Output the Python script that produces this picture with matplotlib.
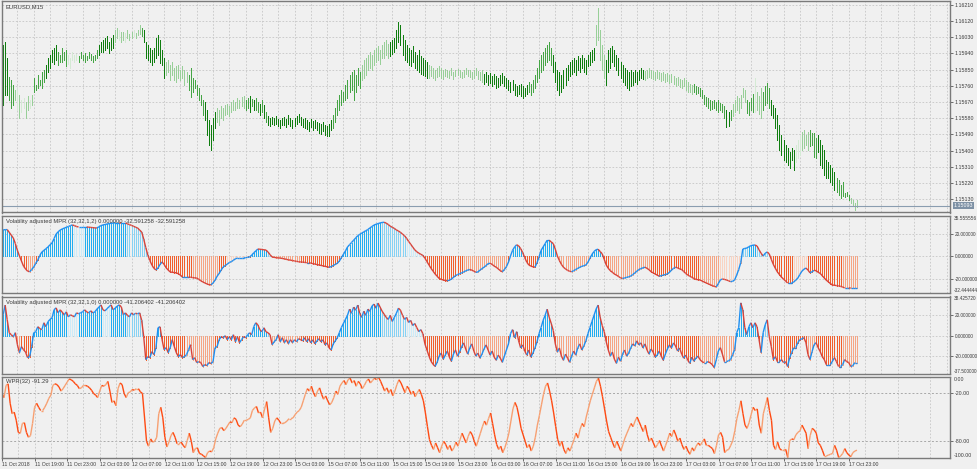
import numpy as np
import matplotlib.pyplot as plt
from matplotlib.collections import LineCollection
from matplotlib.ticker import FixedLocator, FormatStrFormatter

# EURUSD M15 bars, prices kept as points above 1.15000 (price = 1.15 + pts / 1e5)
hi_pts = [
    960, 988, 1004, 915, 810, 793, 765, 737, 748, 709,
    681, 693, 670, 704, 681, 709, 804, 765, 821, 793,
    837, 848, 876, 915, 932, 960, 971, 988, 949, 932,
    971, 949, 960, 932, 915, 949, 932, 938, 926, 949,
    932, 943, 926, 949, 938, 926, 932, 960, 988, 1004,
    1015, 1026, 1037, 1004, 1026, 1043, 1071, 1082, 1071, 1060,
    1060, 1054, 1071, 1049, 1060, 1071, 1054, 1071, 1099, 1082,
    1071, 1004, 988, 971, 960, 971, 1026, 1043, 1015, 960,
    915, 893, 904, 876, 893, 860, 871, 876, 848, 871,
    848, 837, 821, 860, 804, 793, 765, 748, 709, 681,
    670, 626, 570, 542, 581, 615, 637, 626, 648, 637,
    654, 659, 648, 670, 681, 670, 693, 681, 698, 704,
    681, 693, 704, 687, 681, 693, 670, 659, 681, 654,
    615, 592, 581, 587, 581, 592, 576, 570, 581, 587,
    576, 598, 581, 570, 581, 592, 604, 587, 576, 581,
    570, 559, 576, 565, 570, 559, 554, 548, 559, 542,
    537, 548, 570, 598, 637, 681, 709, 737, 726, 765,
    793, 821, 837, 848, 821, 860, 837, 876, 904, 915,
    932, 949, 932, 960, 971, 982, 960, 988, 1004, 1015,
    993, 1004, 1015, 1026, 1071, 1116, 1099, 1043, 1015, 988,
    971, 960, 982, 949, 932, 960, 926, 915, 904, 893,
    876, 871, 860, 848, 860, 871, 860, 848, 854, 848,
    843, 860, 837, 848, 854, 848, 837, 848, 860, 848,
    848, 837, 848, 860, 843, 837, 848, 826, 837, 821,
    832, 815, 826, 815, 804, 821, 832, 815, 804, 793,
    782, 793, 771, 760, 765, 771, 760, 748, 765, 782,
    771, 793, 821, 860, 904, 932, 949, 971, 988, 1004,
    971, 932, 893, 848, 837, 821, 848, 860, 876, 893,
    904, 915, 904, 926, 915, 932, 915, 904, 932, 949,
    960, 971, 1099, 1193, 1071, 988, 932, 904, 960, 971,
    982, 960, 932, 915, 893, 876, 860, 848, 837, 848,
    837, 848, 837, 848, 860, 848, 843, 848, 860, 848,
    843, 837, 848, 837, 832, 837, 826, 832, 821, 826,
    815, 804, 810, 798, 793, 804, 793, 782, 771, 765,
    771, 760, 754, 748, 737, 709, 698, 693, 681, 676,
    681, 670, 681, 665, 659, 648, 626, 615, 626, 659,
    681, 704, 693, 709, 748, 737, 681, 670, 693, 715,
    804, 726, 704, 748, 726, 760, 776, 748, 681, 654,
    637, 598, 542, 487, 459, 431, 414, 392, 414, 403,
    431, 459, 487, 503, 514, 487, 503, 514, 498, 498,
    470, 487, 459, 431, 403, 347, 336, 320, 303, 281,
    247, 236, 208, 225, 164, 169, 153, 136, 125, 108, 125,
]
lo_pts = [
    681, 654, 709, 709, 681, 637, 654, 681, 626, 581,
    615, 637, 581, 626, 637, 654, 726, 737, 748, 765,
    748, 782, 804, 837, 860, 893, 882, 904, 876, 893,
    893, 904, 871, 882, 860, 904, 893, 904, 893, 915,
    904, 893, 904, 915, 904, 893, 904, 915, 932, 949,
    949, 960, 971, 943, 960, 971, 1004, 1026, 1015, 1004,
    1015, 1004, 1026, 1015, 1026, 1037, 1026, 1043, 1049, 1037,
    1004, 915, 904, 893, 876, 893, 915, 932, 887, 876,
    804, 821, 837, 793, 821, 793, 782, 804, 793, 804,
    765, 782, 737, 698, 726, 748, 709, 681, 654, 598,
    570, 487, 431, 403, 459, 526, 559, 542, 581, 570,
    598, 604, 592, 615, 626, 626, 637, 637, 648, 637,
    626, 637, 615, 648, 626, 626, 615, 598, 615, 581,
    559, 542, 537, 548, 542, 548, 537, 526, 542, 542,
    531, 548, 537, 526, 537, 548, 559, 542, 531, 526,
    520, 509, 531, 514, 526, 514, 498, 492, 509, 487,
    481, 481, 514, 526, 559, 598, 626, 654, 670, 681,
    693, 726, 737, 681, 726, 765, 748, 793, 804, 821,
    848, 860, 848, 876, 893, 904, 882, 915, 915, 932,
    915, 926, 938, 949, 971, 1004, 988, 932, 904, 893,
    876, 871, 893, 860, 848, 837, 826, 821, 815, 804,
    804, 815, 804, 793, 810, 815, 804, 798, 815, 810,
    804, 821, 798, 815, 821, 810, 804, 810, 826, 815,
    810, 798, 804, 821, 798, 793, 782, 771, 782, 765,
    776, 760, 771, 748, 754, 765, 776, 760, 748, 737,
    726, 737, 709, 704, 715, 704, 693, 704, 715, 726,
    709, 726, 748, 782, 804, 837, 848, 876, 893, 904,
    876, 837, 782, 737, 709, 726, 748, 765, 793, 815,
    826, 837, 821, 848, 837, 860, 837, 826, 871, 876,
    893, 904, 988, 1015, 904, 848, 804, 765, 837, 860,
    893, 871, 848, 821, 804, 782, 765, 748, 737, 760,
    765, 782, 771, 793, 804, 798, 793, 804, 810, 804,
    798, 793, 804, 798, 787, 793, 782, 787, 776, 782,
    771, 760, 765, 754, 748, 760, 737, 726, 726, 715,
    726, 715, 720, 704, 693, 659, 648, 637, 626, 631,
    637, 626, 615, 626, 615, 581, 531, 537, 570, 592,
    615, 626, 609, 637, 698, 670, 609, 598, 626, 615,
    615, 626, 604, 581, 626, 654, 665, 637, 598, 581,
    526, 459, 403, 375, 347, 336, 320, 303, 347, 292,
    336, 359, 375, 403, 414, 431, 403, 426, 431, 364,
    359, 392, 320, 303, 264, 247, 247, 225, 208, 180,
    169, 153, 136, 147, 142, 147, 125, 108, 97, 69, 86,
]
# bar shade: D dark green, G green, L light green, P pale green
bar_runs = [
    ("D", 4), ("G", 3), ("L", 1), ("P", 1), ("L", 1), ("P", 2), ("L", 2), ("P", 1), ("L", 1),
    ("G", 6), ("D", 6), ("G", 5), ("P", 5), ("G", 10), ("D", 8),
    ("L", 2), ("P", 1), ("L", 2), ("P", 1), ("L", 3), ("P", 1), ("L", 3), ("G", 1),
    ("D", 11), ("L", 11), ("G", 8), ("D", 6), ("L", 14),
    ("G", 2), ("D", 1), ("G", 1), ("D", 1), ("G", 2), ("D", 1), ("G", 1), ("D", 1), ("G", 1),
    ("D", 32), ("G", 14), ("L", 14), ("D", 19), ("L", 27), ("D", 22), ("G", 12), ("D", 21),
    ("L", 5), ("D", 19), ("L", 24), ("G", 11), ("G", 5), ("D", 2), ("G", 1), ("L", 7), ("G", 4),
    ("P", 1), ("L", 3), ("G", 4), ("D", 4), ("D", 8), ("P", 3), ("L", 4), ("G", 4), ("D", 9),
    ("G", 7), ("L", 4),
]
last_price = 1.15093

# Volatility adjusted MPR, slow pane
mpr_slow = [
    23, 23.2, 23.4, 23.5, 21, 18.5, 16, 11, 5, 0,
    -4.5, -9, -11.5, -13.5, -14, -12, -9.8, -6.5, -3.6, 0.5,
    3.5, 5, 6.5, 8, 10, 11.6, 15.5, 19.5, 21.5, 23.1,
    24, 24.8, 25.5, 26.2, 27, 27.6, 27, 26.2, 25.8, 25.8,
    25.8, 25.8, 25.8, 25.6, 25.4, 25.2, 25, 24.9, 26, 27,
    27.6, 28, 28.4, 28.8, 29.1, 29.3, 29.4, 29.4, 29.4, 29.3,
    29.3, 29.3, 28.6, 27.9, 27.2, 26.4, 25.6, 24.9, 23, 21.3,
    15, 7.5, 0.9, -4, -8, -11, -12.4, -10.7, -7.5, -5.3,
    -7.5, -10.5, -12.5, -14.2, -14.5, -14.7, -15, -15.8, -17, -18.7,
    -18.7, -18.7, -18.7, -18.9, -19.2, -19.4, -19.6, -20.8, -22, -23.1,
    -24, -24.8, -25.5, -25.6, -24, -21.5, -18, -15.5, -12.5, -9.8,
    -8.5, -7.2, -5.8, -5, -3.8, -2.5, -1.8, -1.8, -1.8, -1.8,
    -1.5, -1.2, -0.9, 0.8, 2.8, 4.5, 6.2, 6, 5.8, 5.5,
    5.3, 3.5, 1.2, -0.9, -1.2, -1.5, -1.7, -1.8, -2.2, -2.5,
    -3, -3.4, -3.7, -4, -4.4, -4.8, -5.1, -5.3, -5.5, -5.7,
    -6, -6, -6.3, -6.8, -7.2, -7.6, -8, -8.4, -8.8, -9.2,
    -9.6, -10, -9.5, -8.5, -7.5, -6.5, -4.5, -1.5, 1.5, 4.5,
    8, 10, 12, 14, 16, 18, 19.2, 20.3, 21.5, 22.5,
    23.5, 25, 26.2, 27.5, 28.2, 28.8, 29.4, 29.8, 30, 29.2,
    28, 26.5, 25.5, 24.5, 23.2, 22.2, 21, 19.5, 18, 15.7,
    13, 10.5, 8, 5.5, 3.8, 2.5, 1.5, 0.5, -2, -5,
    -8, -11, -13.5, -16, -18, -20, -20.8, -21.3, -21.8, -22,
    -21.5, -20.5, -19, -17.5, -16.5, -15.8, -15, -14.2, -13.2, -12.5,
    -12, -12.6, -13.5, -14.5, -14.2, -12.6, -11.2, -10, -8.5, -6.8,
    -6.5, -7.5, -9, -10, -11.5, -13, -14, -12, -9.5, -5.5,
    0, 5, 8, 10, 9, 6.5, 3, -1.5, -5.5, -8,
    -9, -9.6, -10, -6, -1, 5, 8, 11, 14, 14,
    12.5, 11, 6, 0, -4, -7.5, -10, -11.5, -12.8, -13.6,
    -14, -13, -12, -11, -10, -9.2, -8.6, -8, -5.5, -2,
    1.5, 4, 5.6, 6, 4, 2, -3, -8, -11, -13,
    -14.5, -16, -17, -18.2, -19.4, -20, -19.5, -19, -18.5, -17.8,
    -16.5, -15, -13.5, -12, -11.2, -10.5, -10, -11, -12.2, -14,
    -15, -16, -17, -18, -17.5, -17, -16.5, -16, -14.5, -12.6,
    -11, -10, -10.5, -11.5, -12, -13.8, -15.5, -17, -18, -19,
    -20, -20.8, -21.1, -21.3, -22.2, -23.1, -23.9, -24.7, -25.5, -26.3,
    -27, -27.5, -24.5, -21.3, -20.4, -20.8, -21.3, -22, -22.8, -22.5,
    -21.3, -17, -12, -6, 6.2, 6.7, 7.1, 8.3, 9.2, 9.6,
    9.8, 8.9, 5.5, 2.4, 0, 2.4, 3.6, 1.8, -3, -7.5,
    -11, -14.2, -16.5, -18.8, -20.5, -22.3, -24, -24, -24, -23,
    -21.5, -19.6, -16.5, -13.5, -11.8, -10.7, -12.5, -15, -14, -12.8,
    -13, -14.5, -15.5, -17.5, -19.6, -21.5, -23, -24.5, -25.8, -26,
    -26.3, -26.6, -27, -27.6, -28.4, -28.4, -28.4, -28.5, -28.5, -28.5, -28.5,
]
# Volatility adjusted MPR, fast pane
mpr_fast = [
    20.5, 20.5, 30, 15.6, 2.9, 1, -1, 3, -8.8, -16.6,
    -10.7, -13.7, -16, -21.5, -20.5, -10.7, 2.9, 3.9, 8.8, 7,
    5.9, 12.7, 8.8, 13.7, 16, 17.6, 25.4, 27.3, 22.4, 25.4,
    23, 20.5, 23.4, 18.5, 20.5, 19.5, 18.5, 22.4, 21.5, 22.5,
    23.4, 25.4, 23.4, 22.4, 24.4, 22.4, 23.4, 26, 28, 30.2,
    25.4, 24.4, 26.5, 28.5, 30.2, 25.4, 27, 29, 30.2, 28.3,
    20.5, 22.4, 20, 18.5, 22.4, 20.5, 22, 21.5, 22.4, 15,
    -1, -23.4, -20.5, -21.5, -15.6, -18.5, -11.7, 7.8, 8.8, -3.9,
    -13.7, -11.7, -16.6, -11.7, -3.9, -10.7, -16.6, -20.5, -18.5, -21.5,
    -20.5, -18.5, -13.7, -8.8, -23.4, -21.5, -26.3, -25.4, -26.3, -30.2,
    -28.3, -29.3, -26.3, -27.3, -25.4, -11.7, -10.7, -3.9, -1, -2,
    0, -3.9, -1, -3.9, 1, -5.9, -1, -6.8, -3.9, -1,
    -2, 1, 2.9, 1, 8.8, 12.7, 10.7, 5.9, 3.9, 7.8,
    3.9, 2.9, 1, -8.8, -5.9, -3.9, 1, -5.9, -2, -6.8,
    -3.9, -7.8, -3.9, -6.8, -3.9, -5.9, -2.9, -3.9, -5, -2,
    -6, -3, -7, -4, -8, -5, -3, -6, -4, -9,
    -7, -12, -14, -8, -5, -2, 3, 8, 12, 16,
    20, 26, 22, 28, 25, 30, 22, 18, 24, 20,
    26, 24, 29, 31, 27, 32, 28, 24, 21, 18,
    16, 20, 14, 18, 22, 27, 25, 20, 16, 18,
    13, 15, 10, 12, 8, 4, 6, 2, -8, -14,
    -20, -25, -28, -30, -26, -20, -17, -23, -19, -15,
    -21, -25, -18, -14, -20, -16, -11, -7, -13, -18,
    -12, -8, -15, -20, -17, -22, -18, -13, -9, -14,
    -19, -15, -21, -24, -19, -22, -26, -20, -14, -8,
    2, 6, -2, 4, -5, -12, -9, -15, -19, -14,
    -21, -17, -12, -6, 2, 8, 15, 20, 26, 18,
    12, 5, -8, -16, -12, -20, -24, -18, -22, -26,
    -20, -15, -19, -12, -8, -14, -10, -5, 2, 8,
    14, 20, 26, 30, 18, 10, 4, -6, -14, -20,
    -16, -23, -27, -21, -25, -18, -14, -20, -17, -12,
    -8, -10, -5, -9, -7, -12, -8, -14, -18, -13,
    -16, -21, -19, -15, -20, -24, -18, -13, -9, -12,
    -7, -10, -15, -12, -18, -22, -19, -24, -27, -21,
    -25, -22, -20, -23.4, -25.4, -26.3, -26.3, -25.4, -26.5, -28.3,
    -31.2, -23.4, -15, -11.7, -18, -25.4, -25.4, -24.5, -23.4, -18.5,
    -13.7, 2.9, 7.8, 32.2, 25.4, 7.8, 1, 8.8, 12.7, 7.8,
    12.7, 8.8, -3.9, -16.6, 3, 10.7, 15.6, -1, -10.7, -23.4,
    -20.5, -25.4, -25.4, -23.4, -26.3, -25.4, -30.2, -21.5, -16.6, -11.7,
    -11.7, -6.8, -3.9, -3, -2, -6.8, -18.5, -23.4, -15.6, -8.8,
    -6.8, -11.7, -15.6, -20.5, -23.4, -28.3, -28.3, -28.3, -25, -21.5,
    -25.4, -30.2, -30.2, -28.3, -23.4, -25.4, -26.3, -30.2, -29.3, -26.3, -26.3,
]
# Williams %R (32)
wpr = [
    -21, -26, -11, -9, -33, -46, -44, -54, -69, -70,
    -58, -57, -69, -75, -73, -58, -38, -33, -38, -42,
    -42, -38, -33, -27, -23, -11, -9, -10, -13, -18,
    -15, -11, -7, -3, -4, -6, -9, -11, -15, -14,
    -11, -11, -12, -14, -17, -21, -23, -26, -18, -11,
    -12, -10, -6, -18, -32, -30, -36, -15, -8, -10,
    -21, -26, -20, -19, -16, -17, -15, -15, -19, -21,
    -50, -80, -86, -77, -81, -80, -75, -46, -38, -51,
    -75, -87, -81, -73, -69, -75, -83, -83, -81, -85,
    -88, -79, -70, -80, -94, -89, -88, -95, -96, -98,
    -100, -94, -92, -93, -88, -77, -70, -64, -63, -67,
    -64, -60, -56, -57, -51, -53, -60, -62, -59, -54,
    -54, -53, -51, -42, -39, -37, -45, -44, -51, -40,
    -31, -51, -69, -64, -55, -51, -54, -58, -58, -57,
    -55, -52, -52, -51, -47, -44, -42, -38, -30, -22,
    -15, -18, -12, -20, -25, -18, -14, -22, -28, -24,
    -30, -35, -32, -26, -18, -22, -12, -8, -5, -10,
    -4, -2, -8, -5, -12, -6, -9, -15, -11, -6,
    -3, -8, -5, -2, -4, -1, -6, -12, -18, -14,
    -20, -16, -24, -18, -10, -4, -8, -14, -20, -12,
    -16, -22, -18, -25, -20, -16, -22, -30, -45, -62,
    -78, -85, -90, -82, -88, -94, -86, -80, -84, -90,
    -85, -92, -88, -81, -86, -78, -70, -76, -82, -74,
    -68, -72, -80, -86, -78, -70, -62, -55, -60, -52,
    -45, -58, -72, -84, -90, -86, -94, -88, -80, -70,
    -55, -40, -32, -38, -50, -64, -72, -80, -88, -84,
    -92, -86, -75, -60, -48, -35, -22, -12, -8, -18,
    -30, -45, -62, -78, -86, -80, -90, -95, -88, -92,
    -85, -78, -70, -76, -65, -58, -62, -50, -40, -30,
    -22, -14, -6, -2, -12, -25, -40, -55, -68, -75,
    -82, -88, -80, -86, -92, -84, -76, -70, -64, -58,
    -62, -55, -50, -56, -62, -68, -60, -72, -80, -76,
    -82, -88, -84, -79, -86, -92, -85, -78, -70, -74,
    -66, -72, -80, -76, -84, -90, -86, -92, -96, -88,
    -92, -86, -82, -85, -81, -77, -85, -85, -87, -89,
    -95, -85, -72, -69, -75, -94, -91, -90, -85, -79,
    -67, -52, -42, -30, -46, -60, -64, -57, -47, -38,
    -42, -40, -60, -70, -46, -36, -26, -42, -54, -85,
    -90, -81, -89, -91, -91, -90, -100, -79, -77, -78,
    -72, -69, -67, -60, -65, -70, -89, -73, -64, -66,
    -70, -82, -85, -91, -98, -98, -97, -96, -95, -85,
    -91, -100, -98, -95, -89, -94, -97, -99, -94, -92, -91,
]
# histogram shade runs: d strong, l light, w very light
slow_shade_runs = [
    ("d", 8), ("d", 5), ("l", 4), ("d", 19), ("w", 5), ("d", 21), ("l", 10), ("d", 22),
    ("l", 13), ("d", 4), ("w", 10), ("d", 10), ("l", 16),
    ("d", 40), ("l", 12), ("w", 8), ("d", 20), ("l", 22), ("d", 24), ("l", 16), ("d", 10),
    ("l", 20), ("d", 24),
    ("l", 10), ("w", 10), ("l", 4), ("d", 4), ("l", 8), ("d", 10), ("w", 7), ("d", 17), ("l", 8),
]
fast_shade_runs = [
    ("d", 5), ("l", 5), ("d", 6), ("d", 17), ("w", 5), ("d", 12), ("w", 4), ("d", 8), ("l", 8),
    ("d", 21), ("l", 14), ("d", 16), ("d", 10), ("l", 16),
    ("d", 40), ("l", 12), ("w", 8), ("d", 20), ("l", 22), ("d", 24), ("l", 16), ("d", 10),
    ("l", 20), ("d", 24),
    ("l", 18), ("d", 12), ("l", 6), ("d", 17), ("l", 4), ("d", 13), ("l", 8),
]
time_labels = [
    "11 Oct 2018", "11 Oct 19:00", "11 Oct 23:00", "12 Oct 03:00", "12 Oct 07:00",
    "12 Oct 11:00", "12 Oct 15:00", "12 Oct 19:00", "12 Oct 23:00", "15 Oct 03:00",
    "15 Oct 07:00", "15 Oct 11:00", "15 Oct 15:00", "15 Oct 19:00", "15 Oct 23:00",
    "16 Oct 03:00", "16 Oct 07:00", "16 Oct 11:00", "16 Oct 15:00", "16 Oct 19:00",
    "16 Oct 23:00", "17 Oct 03:00", "17 Oct 07:00", "17 Oct 11:00", "17 Oct 15:00",
    "17 Oct 19:00", "17 Oct 23:00",
]
price_ticks = [1.16210, 1.16120, 1.16030, 1.15940, 1.15850, 1.15760, 1.15670,
               1.15580, 1.15490, 1.15400, 1.15310, 1.15220, 1.15130]

plt.rcParams['font.family'] = ['Liberation Sans', 'DejaVu Sans']

bg = '#f0f0f0'
spine_c = '#7a7a7a'
txt_c = '#3c3c3c'
grid_c = '#c6c6c6'
fs_y = 3.8    # price axis
fs_ind = 3.4  # indicator axes, long labels
fs_x = 3.7
bar_pal = {'D': '#0f7d0f', 'G': '#45a545', 'L': '#98cf98', 'P': '#d4ead4'}
pos_pal = {'d': '#22aef0', 'l': '#86d2f4', 'w': '#cdebf8'}
neg_pal = {'d': '#f25f2c', 'l': '#f6a584', 'w': '#f9d4c3'}


def expand(runs):
    return ''.join(c * n for c, n in runs)


n = len(hi_pts)
x = np.arange(n)
hi = 1.15 + np.array(hi_pts) / 1e5
lo = 1.15 + np.array(lo_pts) / 1e5

W, H = 977, 469
fig = plt.figure(figsize=(W / 100, H / 100), dpi=100, facecolor=bg)


def pane(top, bottom):
    return fig.add_axes([2 / W, 1 - bottom / H, 948 / W, (bottom - top) / H])


ax1 = pane(1, 212.5)
ax2 = pane(216, 292.5)
ax3 = pane(296.5, 374)
ax4 = pane(376.5, 457.5)

for ax in (ax1, ax2, ax3, ax4):
    ax.set_facecolor(bg)
    ax.set_xlim(0.44, 465.7)
    for s in ax.spines.values():
        s.set_color(spine_c)
        s.set_linewidth(1.0)
    ax.yaxis.tick_right()
    ax.xaxis.set_major_locator(FixedLocator(np.arange(0, 466, 16)))
    ax.xaxis.set_minor_locator(FixedLocator(np.arange(8, 466, 16)))
    ax.grid(True, axis='x', which='both', color=grid_c, linestyle=(0, (2, 2)), linewidth=0.6)
    ax.tick_params(axis='y', direction='out', length=2.5, width=0.6, color='#555555',
                   labelsize=fs_ind, labelcolor=txt_c, pad=1)
    ax.tick_params(axis='x', which='both', length=0)
    ax.set_axisbelow(True)
    if ax is not ax4:
        ax.set_xticklabels([])


def edge_label(ax, val, text, va, fs):
    ax.text(1.004, val, text, transform=ax.get_yaxis_transform(), fontsize=fs,
            color=txt_c, va=va, ha='left', clip_on=False)


# main price pane
ax1.set_ylim(1.15055, 1.16232)
ax1.yaxis.set_major_locator(FixedLocator(price_ticks))
ax1.yaxis.set_major_formatter(FormatStrFormatter('%.5f'))
ax1.tick_params(axis='y', labelsize=fs_y)
ax1.grid(True, axis='y', color=grid_c, linestyle=(0, (2, 2)), linewidth=0.6)
ax1.vlines(x, lo, hi, colors=[bar_pal[c] for c in expand(bar_runs)], linewidth=0.72,
           antialiased=False)
ax1.axhline(last_price, color='#8a9db0', linewidth=0.8)
ax1.text(1.004, last_price, '%.5f' % last_price, transform=ax1.get_yaxis_transform(),
         fontsize=fs_y, color='white', va='center', ha='left',
         bbox=dict(facecolor='#7e91a5', edgecolor='none', pad=0.5))
ax1.text(0.004, 0.985, 'EURUSD,M15', transform=ax1.transAxes, fontsize=4.2,
         color=txt_c, va='top', ha='left')


def colored_line(ax, y, up, down, lw):
    pts = np.column_stack([x, y])
    segs = np.stack([pts[:-1], pts[1:]], axis=1)
    cols = [up if b >= a else down for a, b in zip(y[:-1], y[1:])]
    ax.add_collection(LineCollection(segs, colors=cols, linewidths=lw))


def mpr_pane(ax, vals, shade_runs, lims, title):
    v = np.array(vals, dtype=float)
    shades = expand(shade_runs)
    cols = [pos_pal[s] if val >= 0 else neg_pal[s] for val, s in zip(v, shades)]
    ax.vlines(x, 0, v, colors=cols, linewidth=0.72, antialiased=False)
    colored_line(ax, v, '#1f8ff0', '#d8433a', 1.0)
    ax.set_ylim(lims[1], lims[0])
    ax.yaxis.set_major_locator(FixedLocator([20, 0, -20]))
    ax.yaxis.set_major_formatter(FormatStrFormatter('%.6f'))
    edge_label(ax, lims[0], '%.6f' % lims[0], 'top', fs_ind)
    edge_label(ax, lims[1], '%.6f' % lims[1], 'bottom', fs_ind)
    for lvl in (20, 0, -20):
        ax.axhline(lvl, color=grid_c, linestyle=(0, (2, 2)), linewidth=0.6, zorder=0)
    ax.text(0.004, 0.96, title, transform=ax.transAxes, fontsize=4.2,
            color=txt_c, va='top', ha='left')


mpr_pane(ax2, mpr_slow, slow_shade_runs, (35.555556, -32.444444),
         'Volatility adjusted MPR (32,32,1,2) 0.000000 -32.591258 -32.591258')
mpr_pane(ax3, mpr_fast, fast_shade_runs, (38.425720, -37.500000),
         'Volatility adjusted MPR (32,32,1,0) 0.000000 -41.206402 -41.206402')

# Williams %R pane
w = np.array(wpr, dtype=float)
ax4.set_ylim(-100, 0)
ax4.yaxis.set_major_locator(FixedLocator([-20, -80]))
ax4.yaxis.set_major_formatter(FormatStrFormatter('%.2f'))
ax4.tick_params(axis='y', labelsize=fs_y)
edge_label(ax4, 0, '0.00', 'top', fs_y)
edge_label(ax4, -100, '-100.00', 'bottom', fs_y)
for lvl in (-20, -80):
    ax4.axhline(lvl, color='#a8a8a8', linestyle=(0, (2, 2)), linewidth=0.7, zorder=0)
colored_line(ax4, w, '#f7a072', '#ff4a12', 1.0)
ax4.text(0.004, 0.97, 'WPR(32) -91.29', transform=ax4.transAxes, fontsize=4.2,
         color=txt_c, va='top', ha='left')
ax4.set_xticks(np.arange(len(time_labels)) * 16)
ax4.set_xticklabels(time_labels)
ax4.tick_params(axis='x', which='major', direction='out', length=2.5, width=0.6,
                color='#555555', labelsize=fs_x, labelcolor=txt_c, pad=1)
for lab in ax4.get_xticklabels():
    lab.set_ha('left')

fig.savefig('out.png', dpi=100, facecolor=bg)
